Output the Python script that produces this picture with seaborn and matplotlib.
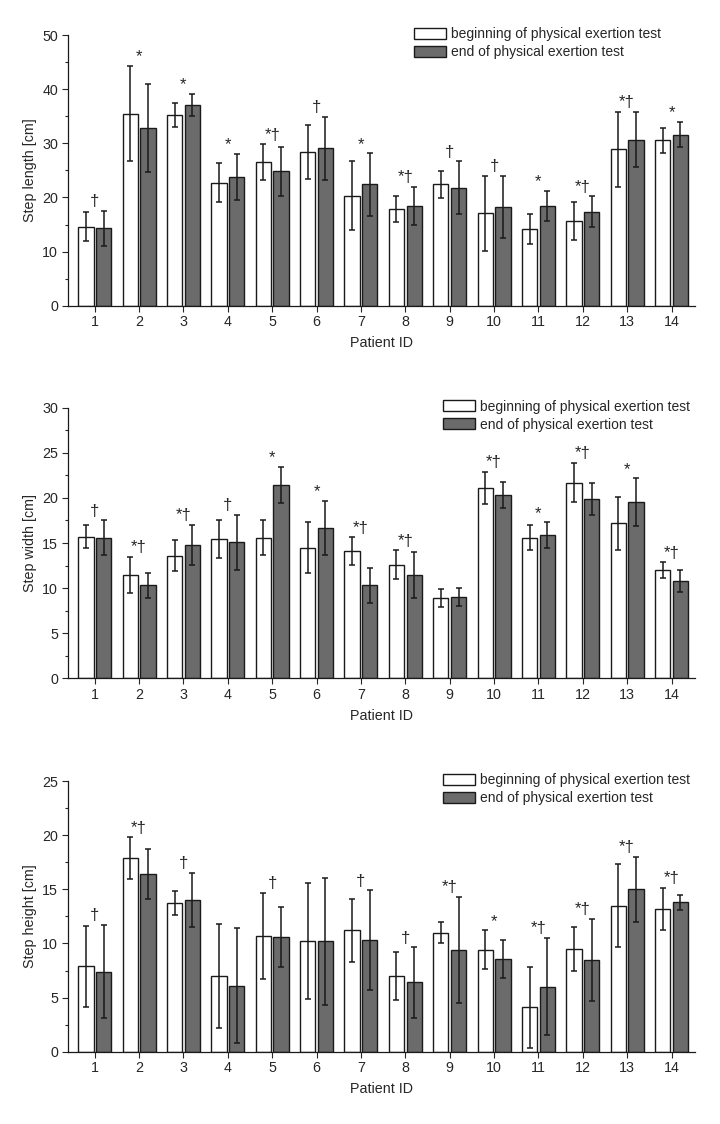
import seaborn as sns
import matplotlib.pyplot as plt
from matplotlib.ticker import MultipleLocator
import numpy as np
import pandas as pd

patients = [str(i) for i in range(1, 15)]
phases = ["beginning of physical exertion test", "end of physical exertion test"]

# step length [cm]
length_begin = [14.6, 35.5, 35.2, 22.7, 26.5, 28.4, 20.3, 17.9, 22.4, 17.1, 14.2, 15.7, 28.9, 30.6]
length_begin_sd = [2.7, 8.8, 2.25, 3.6, 3.3, 5.0, 6.4, 2.35, 2.45, 6.95, 2.75, 3.55, 6.95, 2.3]
length_end = [14.3, 32.8, 37.1, 23.8, 24.8, 29.1, 22.4, 18.5, 21.8, 18.2, 18.4, 17.4, 30.7, 31.6]
length_end_sd = [3.2, 8.1, 2.1, 4.25, 4.5, 5.85, 5.75, 3.5, 4.85, 5.7, 2.8, 2.8, 5.0, 2.35]
length_marks = ["†", "*", "*", "*", "*†", "†", "*", "*†", "†", "†", "*", "*†", "*†", "*"]

# step width [cm]
width_begin = [15.7, 11.5, 13.6, 15.4, 15.6, 14.5, 14.1, 12.6, 8.9, 21.1, 15.6, 21.7, 17.2, 12.0]
width_begin_sd = [1.3, 2.0, 1.7, 2.1, 1.9, 2.8, 1.55, 1.6, 0.95, 1.8, 1.4, 2.2, 2.95, 0.85]
width_end = [15.6, 10.3, 14.8, 15.1, 21.4, 16.7, 10.3, 11.4, 9.0, 20.3, 15.9, 19.9, 19.5, 10.8]
width_end_sd = [1.9, 1.4, 2.25, 3.05, 2.0, 3.0, 1.9, 2.55, 1.0, 1.45, 1.4, 1.8, 2.65, 1.2]
width_marks = ["†", "*†", "*†", "†", "*", "*", "*†", "*†", "", "*†", "*", "*†", "*", "*†"]

# step height [cm]
height_begin = [7.9, 17.9, 13.7, 7.0, 10.7, 10.2, 11.2, 7.0, 11.0, 9.4, 4.1, 9.5, 13.5, 13.2]
height_begin_sd = [3.75, 1.9, 1.1, 4.8, 4.0, 5.35, 2.9, 2.25, 1.0, 1.8, 3.75, 2.0, 3.85, 1.95]
height_end = [7.4, 16.4, 14.0, 6.1, 10.6, 10.2, 10.3, 6.4, 9.4, 8.6, 6.0, 8.5, 15.0, 13.8]
height_end_sd = [4.3, 2.3, 2.5, 5.3, 2.8, 5.85, 4.6, 3.25, 4.9, 1.75, 4.5, 3.8, 3.0, 0.7]
height_marks = ["†", "*†", "†", "", "†", "", "†", "†", "*†", "*", "*†", "*†", "*†", "*†"]

panels = [
    ("Step length [cm]", length_begin, length_begin_sd, length_end, length_end_sd, length_marks, 50, 10, 0.552),
    ("Step width [cm]", width_begin, width_begin_sd, width_end, width_end_sd, width_marks, 30, 5, 0.598),
    ("Step height [cm]", height_begin, height_begin_sd, height_end, height_end_sd, height_marks, 25, 5, 0.598),
]

sns.set_style("ticks")
plt.rcParams["font.family"] = ["Liberation Sans", "DejaVu Sans"]
fs = 10.3

fig = plt.figure(figsize=(7.2, 11.24), dpi=100)
bottoms = [0.728, 0.3965, 0.0643]
palette = {phases[0]: "white", phases[1]: "#6b6b6b"}

for (ylab, b, bsd, e, esd, marks, ymax, step, legx), bot in zip(panels, bottoms):
    ax = fig.add_axes([0.094, bot, 0.871, 0.2408])
    df = pd.DataFrame({
        "Patient ID": patients * 2,
        "phase": [phases[0]] * 14 + [phases[1]] * 14,
        "value": b + e,
    })
    sns.barplot(data=df, x="Patient ID", y="value", hue="phase", palette=palette,
                order=patients, hue_order=phases, errorbar=None, width=0.8, gap=0.14,
                edgecolor="#1a1a1a", linewidth=1.0, ax=ax)
    for cont, sd in zip(ax.containers, [bsd, esd]):
        xs = [p.get_x() + p.get_width() / 2 for p in cont]
        hs = [p.get_height() for p in cont]
        ax.errorbar(xs, hs, yerr=sd, fmt="none", ecolor="#1a1a1a", elinewidth=1.1,
                    capsize=2.2, capthick=1.1, zorder=3)
    tops = np.maximum(np.array(b) + np.array(bsd), np.array(e) + np.array(esd))
    for i, (t, m) in enumerate(zip(tops, marks)):
        if m:
            ax.text(i, t + ymax * 0.006, m, ha="center", va="bottom", fontsize=12)
    ax.set_xlim(-0.61, 13.525)
    ax.set_ylim(0, ymax)
    ax.yaxis.set_major_locator(MultipleLocator(step))
    ax.yaxis.set_minor_locator(MultipleLocator(step / 2))
    ax.tick_params(axis="both", which="major", length=4, width=0.8, labelsize=fs, pad=3)
    ax.tick_params(axis="y", which="minor", length=2.5, width=0.8)
    ax.set_ylabel(ylab, fontsize=fs, labelpad=4)
    ax.set_xlabel("Patient ID", fontsize=fs, labelpad=5)
    sns.despine(ax=ax)
    for s in ["left", "bottom"]:
        ax.spines[s].set_linewidth(0.9)
        ax.spines[s].set_color("#1a1a1a")
    handles, labels = ax.get_legend_handles_labels()
    ax.legend(handles, labels, loc="upper left", bbox_to_anchor=(legx, 1.03), frameon=False,
              borderpad=0, borderaxespad=0, handlelength=2.35, handleheight=0.85,
              handletextpad=0.35, labelspacing=0.3, fontsize=10)

fig.savefig("out.png", dpi=100)
